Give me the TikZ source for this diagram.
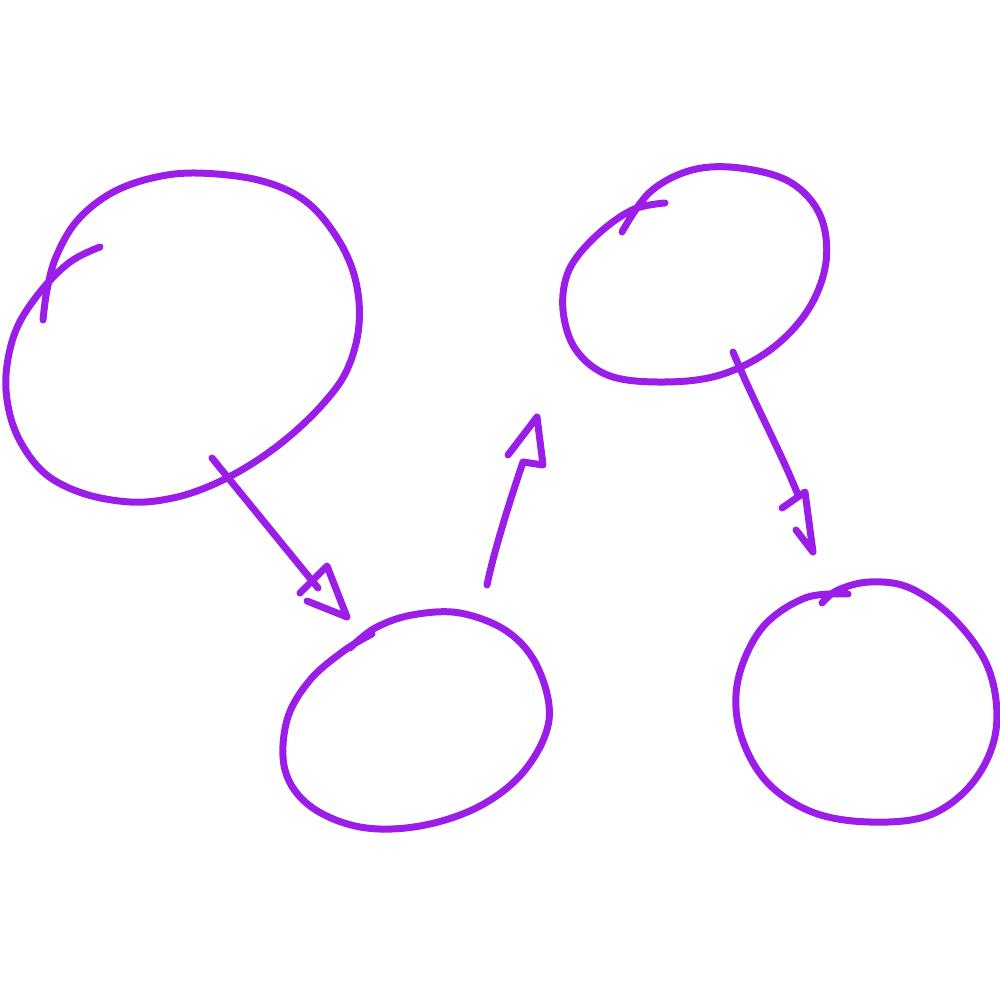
\documentclass[tikz,border=0pt]{standalone}
\definecolor{pen}{RGB}{155,30,232}
\tikzset{
  ink/.style={draw=pen, line width=7pt, line cap=round, line join=round},
}
\begin{document}
\begin{tikzpicture}[x=1pt,y=-1pt]
\useasboundingbox (0,0) rectangle (1000,1000);
% circle 1 (large, left)
\draw[ink] plot[smooth, tension=0.6] coordinates {
 (100,247) (70,262) (40,292) (16,330) (6,375) (10,415) (24,448) (48,476)
 (85,494) (130,502) (168,499) (205,488) (245,468) (285,440) (322,405)
 (347,370) (359,325) (355,278) (336,236) (304,200) (258,180) (195,173)
 (148,179) (108,195) (76,222) (56,257) (47,290) (43,320)};
% circle 2 (bottom middle)
\draw[ink] plot[smooth, tension=0.6] coordinates {
 (372,634) (345,650) (310,680) (287,720) (285,770) (310,806) (360,827)
 (420,826) (480,806) (525,770) (549,720) (538,668) (508,632) (460,613)
 (412,615) (375,628) (350,648)};
% circle 3 (top right)
\draw[ink] plot[smooth, tension=0.6] coordinates {
 (665,203) (632,210) (596,236) (569,270) (563,310) (576,350) (610,376)
 (665,382) (720,375) (770,350) (808,310) (826,262) (820,215) (790,182)
 (740,168) (692,170) (650,192) (622,232)};
% circle 4 (bottom right)
\draw[ink] plot[smooth, tension=0.6] coordinates {
 (848,594) (805,598) (762,628) (738,680) (740,732) (766,781) (812,812)
 (870,822) (930,815) (974,781) (996,730) (989,670) (955,620) (910,588)
 (870,582) (838,590) (822,603)};
% arrow coordinates
\coordinate (a1s) at (212,458);
\coordinate (a1e) at (318,588);
\coordinate (a2s) at (487,585);
\coordinate (a2e) at (523,462);
\coordinate (a3s) at (733,352);
\coordinate (a3e) at (798,495);
% arrow 1: circle 1 -> circle 2
\draw[ink] (a1s) -- (a1e);
\draw[ink] (300,593) -- (327,566) -- (347,617) -- (307,601);
% arrow 2: circle 2 -> circle 3
\draw[ink] (a2s) .. controls (492,560) and (505,515) .. (a2e) -- (543,465) -- (537,417) -- (508,455);
% arrow 3: circle 3 -> circle 4
\draw[ink] (a3s) .. controls (755,405) and (780,450) .. (a3e);
\draw[ink] (782,508) -- (805,492) -- (813,552) -- (796,530);
\end{tikzpicture}
\end{document}
